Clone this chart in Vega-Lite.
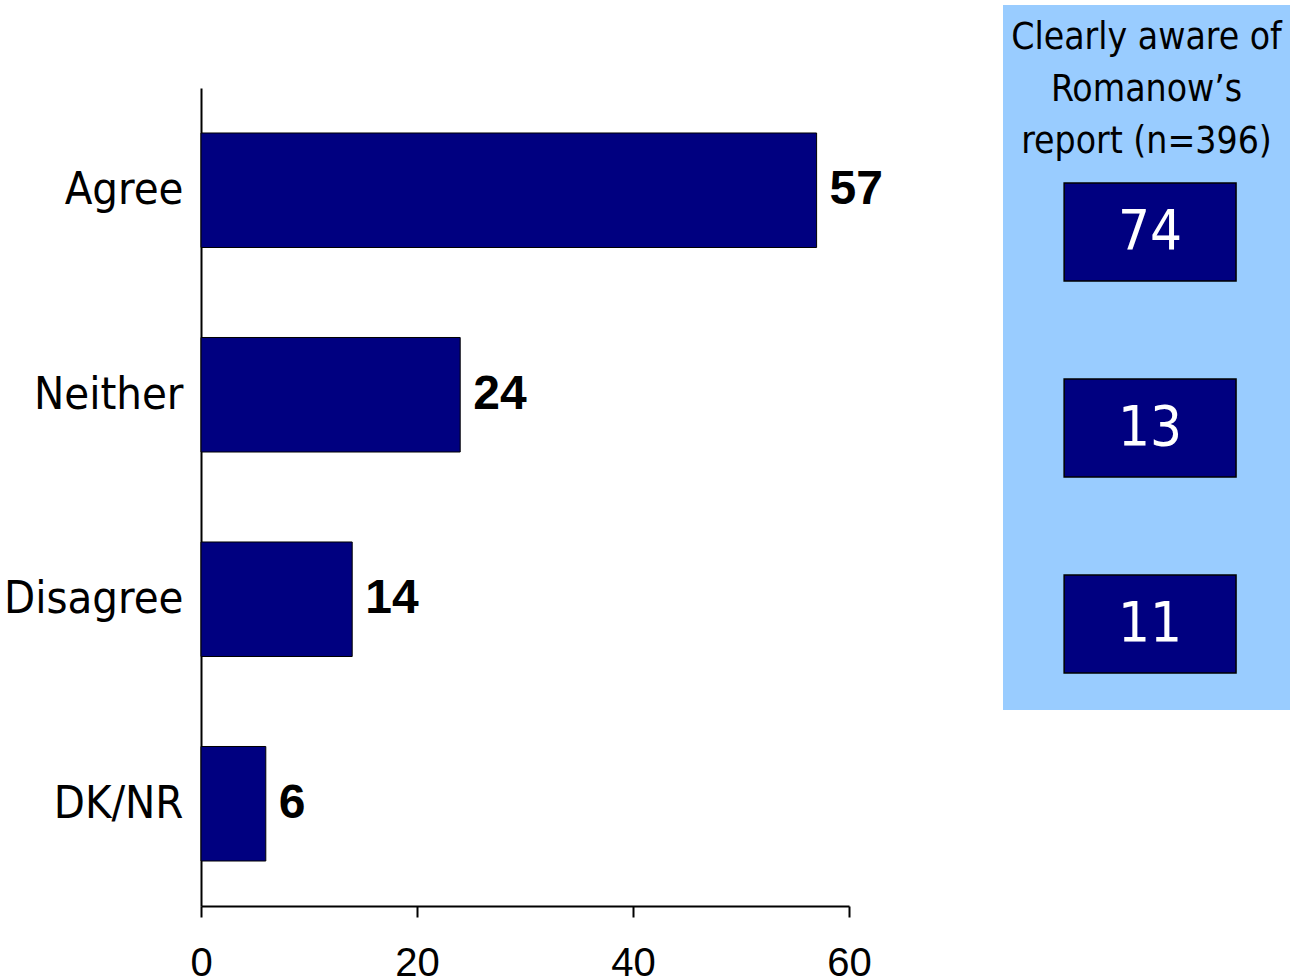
{
  "$schema": "https://vega.github.io/schema/vega-lite/v6.json",
  "padding": {"left": 3, "top": 5, "right": 5, "bottom": 0},
  "background": "white",
  "datasets": {
    "survey": [
      {"response": "Agree", "pct": 57, "aware": 74},
      {"response": "Neither", "pct": 24, "aware": 13},
      {"response": "Disagree", "pct": 14, "aware": 11},
      {"response": "DK/NR", "pct": 6, "aware": null}
    ]
  },
  "data": {"name": "survey"},
  "spacing": 120,
  "config": {"view": {"stroke": null}, "font": "Liberation Sans"},
  "hconcat": [
    {
      "spacing": 0,
      "vconcat": [
        {
          "width": 648,
          "height": 83,
          "data": {"values": [{}]},
          "mark": {"type": "text", "text": ""},
          "encoding": {}
        },
        {
          "width": 648,
          "height": 818,
          "encoding": {
            "y": {
              "field": "response",
              "type": "nominal",
              "sort": ["Agree", "Neither", "Disagree", "DK/NR"],
              "scale": {"paddingInner": 0.44, "paddingOuter": 0.22},
              "axis": {
                "title": null,
                "labelFont": "DejaVu Sans Condensed, Liberation Sans, sans-serif",
                "labelFontSize": 45,
                "labelColor": "black",
                "labelPadding": 18,
                "labelLimit": 400,
                "ticks": false,
                "domainColor": "black",
                "domainWidth": 2
              }
            }
          },
          "layer": [
            {
              "mark": {"type": "bar", "color": "#000080", "stroke": "black", "strokeWidth": 1},
              "encoding": {
                "x": {
                  "field": "pct",
                  "type": "quantitative",
                  "scale": {"domain": [0, 60], "nice": false},
                  "axis": {
                    "title": null,
                    "values": [0, 20, 40, 60],
                    "grid": false,
                    "tickSize": 11,
                    "tickWidth": 2,
                    "tickColor": "black",
                    "domainColor": "black",
                    "domainWidth": 2,
                    "labelFontSize": 40,
                    "labelColor": "black",
                    "labelPadding": 26,
                    "labelFlush": false
                  }
                }
              }
            },
            {
              "mark": {"type": "text", "align": "left", "dx": 13, "baseline": "middle", "fontSize": 48, "fontWeight": "bold", "color": "black"},
              "encoding": {
                "x": {"field": "pct", "type": "quantitative"},
                "text": {"field": "pct", "type": "quantitative"}
              }
            }
          ]
        }
      ]
    },
    {
      "width": 287,
      "height": 705,
      "view": {"fill": "#99CCFF", "stroke": null},
      "title": {
        "text": ["Clearly aware of", "Romanow’s", "report (n=396)"],
        "font": "DejaVu Sans Condensed, Liberation Sans, sans-serif",
        "fontSize": 37,
        "fontWeight": "normal",
        "color": "black",
        "lineHeight": 52,
        "baseline": "top",
        "offset": -156,
        "anchor": "middle",
        "frame": "group"
      },
      "transform": [{"filter": "isValid(datum.aware)"}],
      "encoding": {
        "y": {
          "field": "response",
          "type": "nominal",
          "sort": ["Agree", "Neither", "Disagree"],
          "scale": {"paddingInner": 0.5, "paddingOuter": 0.5485, "align": 0.828},
          "axis": null
        }
      },
      "layer": [
        {
          "mark": {"type": "rect", "color": "#000080", "stroke": "black", "strokeWidth": 1.5},
          "encoding": {
            "x": {"datum": 21.3, "type": "quantitative", "scale": {"domain": [0, 100], "nice": false}, "axis": null},
            "x2": {"datum": 81.2}
          }
        },
        {
          "mark": {"type": "text", "color": "white", "font": "DejaVu Sans Condensed, Liberation Sans, sans-serif", "fontSize": 56, "baseline": "middle", "align": "center"},
          "encoding": {
            "x": {"datum": 51.2, "type": "quantitative"},
            "text": {"field": "aware", "type": "quantitative"}
          }
        }
      ]
    }
  ]
}
